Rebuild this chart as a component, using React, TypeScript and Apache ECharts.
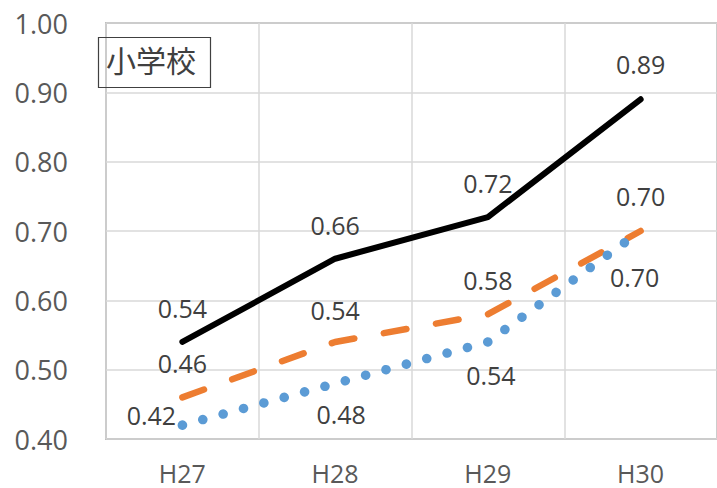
import React, { useEffect, useRef } from "react";
import * as echarts from "echarts";

const categories = ["H27", "H28", "H29", "H30"];
const blackValues = [0.54, 0.66, 0.72, 0.89];
const orangeValues = [0.46, 0.54, 0.58, 0.7];
const blueValues = [0.42, 0.48, 0.54, 0.7];
const yMin = 0.4;
const yMax = 1.0;
const yInterval = 0.1;
const boxTitle = "小学校";

const blackOffsets = [[0, -34], [0, -34], [0, -34], [0, -35]];
const orangeOffsets = [[0, -34], [0, -32], [0, -34], [0, -35]];
const blueOffsets = [[-31, -10], [6, 30], [3, 33], [-6, 46]];

const FONT = "'Open Sans', 'Noto Sans', sans-serif";

function makeData(values: number[], offsets: number[][]) {
  return values.map((v, i) => ({ value: v, label: { offset: offsets[i] } }));
}

export default function App() {
  const ref = useRef<HTMLDivElement>(null);
  useEffect(() => {
    document.body.style.margin = "0";
    if (!ref.current) return;
    const chart = echarts.init(ref.current, null, { renderer: "svg" });
    const labelBase = {
      show: true,
      position: "inside",
      fontFamily: FONT,
      fontSize: 25,
      color: "#404040",
      formatter: (p: any) => Number(p.value).toFixed(2),
    };
    chart.setOption({
      animation: false,
      backgroundColor: "#ffffff",
      grid: {
        left: 106,
        top: 23,
        width: 612,
        height: 416,
        show: true,
        borderColor: "#8c8c8c",
        borderWidth: 1.5,
      },
      xAxis: {
        type: "category",
        data: categories,
        boundaryGap: true,
        axisLine: { show: false },
        axisTick: { show: false },
        splitLine: { show: true, lineStyle: { color: "#d9d9d9", width: 1.5 } },
        axisLabel: {
          fontFamily: FONT,
          fontSize: 25,
          color: "#595959",
          margin: 21,
        },
      },
      yAxis: {
        type: "value",
        min: yMin,
        max: yMax,
        interval: yInterval,
        axisLine: { show: false },
        axisTick: { show: false },
        splitLine: { show: true, lineStyle: { color: "#d9d9d9", width: 1.5 } },
        axisLabel: {
          fontFamily: FONT,
          fontSize: 27,
          color: "#595959",
          margin: 38,
          formatter: (v: number) => v.toFixed(2),
        },
      },
      series: [
        {
          type: "line",
          data: makeData(blackValues, blackOffsets),
          symbol: "circle",
          symbolSize: 0.001,
          itemStyle: { color: "#000000" },
          lineStyle: { color: "#000000", width: 6, cap: "round", join: "round" },
          label: labelBase,
          z: 4,
        },
        {
          type: "line",
          data: makeData(orangeValues, orangeOffsets),
          symbol: "circle",
          symbolSize: 0.001,
          itemStyle: { color: "#ED7D31" },
          lineStyle: { color: "#ED7D31", width: 6.5, type: [23, 30], cap: "round", join: "round" },
          label: labelBase,
          z: 3,
        },
        {
          type: "line",
          data: makeData(blueValues, blueOffsets),
          symbol: "circle",
          symbolSize: 0.001,
          itemStyle: { color: "#5B9BD5" },
          lineStyle: { color: "#5B9BD5", width: 9.5, type: [0.1, 21], cap: "round", join: "round" },
          label: labelBase,
          z: 5,
        },
      ],
      graphic: [
        {
          type: "rect",
          left: 96,
          top: 35,
          shape: { width: 112, height: 50 },
          style: { fill: "none", stroke: "#404040", lineWidth: 1.2 },
          z: 10,
        },
        {
          type: "text",
          left: 106,
          top: 44,
          style: {
            text: boxTitle,
            fontFamily: "'Noto Sans CJK JP', sans-serif",
            fontSize: 30,
            fill: "#404040",
          },
          z: 10,
        },
      ],
    });
    return () => chart.dispose();
  }, []);
  return <div ref={ref} style={{ width: 717, height: 488 }} />;
}
